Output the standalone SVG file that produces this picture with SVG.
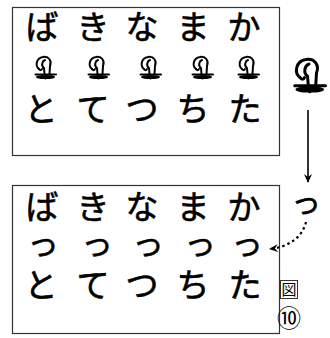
<svg xmlns="http://www.w3.org/2000/svg" width="330" height="338" viewBox="0 0 330 338">
<style>
.box{fill:none;stroke:#333;stroke-width:1.2}
.k{font-family:"Noto Sans CJK JP",sans-serif;font-size:33px;fill:#000;text-anchor:middle;stroke:#000;stroke-width:0.6}
.s{font-family:"Noto Sans CJK JP",sans-serif;font-size:32px;fill:#000;text-anchor:middle;stroke:#000;stroke-width:0.6}
.sym{fill:none;stroke:#000;stroke-width:2;stroke-linecap:round;stroke-linejoin:round}
</style>
<defs>
<g id="mark">
<path class="sym" d="M4,13 C0,10 1,2 8,1 C14,0 17,5 15,10 L14.5,18"/>
<path class="sym" d="M10,4 C7,5 6,10 9,12 L9.5,18"/>
<path class="sym" d="M4,13 C5,14.5 6.5,14.5 7,13"/>
<path class="sym" d="M0.5,18.5 H21"/>
<path class="sym" d="M2,21 C2,19.6 19,19.6 19,21 C19,22.4 2,22.4 2,21 Z"/>
<path class="sym" d="M10.5,19 V22.5"/>
</g>
<marker id="ah" markerWidth="10" markerHeight="10" refX="8" refY="5" orient="auto" markerUnits="userSpaceOnUse">
<path d="M0,1 L9,5 L0,9 L3,5 Z" fill="#000"/>
</marker>
</defs>
<g id="top-box">
<rect class="box" x="12.5" y="7.5" width="267" height="148"/>
<text class="k" x="42" y="39">ば</text>
<text class="k" x="93" y="39">き</text>
<text class="k" x="142" y="39">な</text>
<text class="k" x="193" y="39">ま</text>
<text class="k" x="244" y="39">か</text>
<use href="#mark" x="35" y="56"/>
<use href="#mark" x="88" y="56"/>
<use href="#mark" x="140" y="56"/>
<use href="#mark" x="192" y="56"/>
<use href="#mark" x="238" y="56"/>
<text class="k" x="41" y="121">と</text>
<text class="k" x="93" y="121">て</text>
<text class="k" x="142" y="121">つ</text>
<text class="k" x="193" y="121">ち</text>
<text class="k" x="245" y="121">た</text>
</g>
<g id="side-mark">
<use href="#mark" transform="translate(294,58) scale(1.5)"/>
</g>
<g id="bottom-box">
<rect class="box" x="12.5" y="185.5" width="267" height="148"/>
<text class="k" x="42" y="219">ば</text>
<text class="k" x="93" y="219">き</text>
<text class="k" x="142" y="219">な</text>
<text class="k" x="193" y="219">ま</text>
<text class="k" x="244" y="219">か</text>
<text class="s" x="43" y="255">っ</text>
<text class="s" x="97" y="255">っ</text>
<text class="s" x="148" y="255">っ</text>
<text class="s" x="200" y="255">っ</text>
<text class="s" x="247" y="255">っ</text>
<text class="k" x="41" y="297">と</text>
<text class="k" x="93" y="297">て</text>
<text class="k" x="142" y="297">つ</text>
<text class="k" x="193" y="297">ち</text>
<text class="k" x="245" y="297">た</text>
</g>
<g id="side-tsu">
<text class="s" x="306" y="213" style="font-size:30px">っ</text>
</g>
<g id="fig-label">
<rect x="280.5" y="280.5" width="17" height="18" fill="none" stroke="#333" stroke-width="1"/>
<text x="289" y="295" style="font-family:'Noto Sans CJK JP',sans-serif;font-size:15px;text-anchor:middle">図</text>
<text x="289" y="327" style="font-family:'Noto Sans CJK JP',sans-serif;font-size:24px;text-anchor:middle">⑩</text>
</g>
<g id="connectors">
<line x1="308" y1="110" x2="308" y2="182" stroke="#000" stroke-width="1.6" marker-end="url(#ah)"/>
<path d="M306,222 C302,238 288,247 270,249" fill="none" stroke="#000" stroke-width="2.2" stroke-dasharray="2.5,3" marker-end="url(#ah)"/>
</g>
</svg>
